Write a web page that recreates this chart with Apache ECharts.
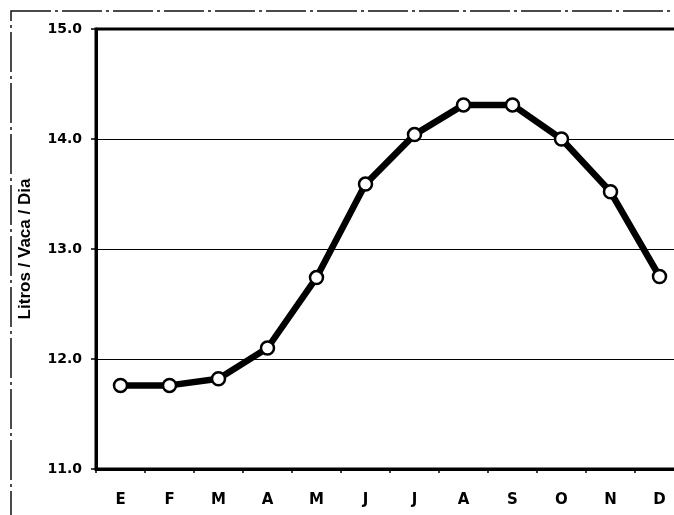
<!DOCTYPE html>
<html>
<head>
<meta charset="utf-8">
<script src="https://cdn.jsdelivr.net/npm/echarts@6/dist/echarts.min.js"></script>
<style>
html,body{margin:0;padding:0;background:#fff;}
#c{width:674px;height:515px;}
</style>
</head>
<body>
<div id="c"></div>
<script>
var months = ['E','F','M','A','M','J','J','A','S','O','N','D'];
var litros = [11.76, 11.76, 11.82, 12.10, 12.74, 13.59, 14.04, 14.31, 14.31, 14.00, 13.52, 12.75];
var yTicks = [11, 12, 13, 14, 15];
var yName = 'Litros / Vaca / Dia';

var chart = echarts.init(document.getElementById('c'), null, {renderer:'canvas'});
var font = 'DejaVu Sans';
chart.setOption({
  animation: false,
  backgroundColor: '#fff',
  graphic: [{
    type: 'rect',
    shape: {x: 11, y: 11, width: 720, height: 560},
    style: {fill: 'none', stroke: '#111', lineWidth: 1.5, lineDash: [40, 4, 3, 4]},
    silent: true, z: 0
  }],
  grid: {
    left: 96, top: 29, width: 588, height: 440,
    containLabel: false,
    outerBoundsMode: 'none',
    show: true, borderColor: '#000', borderWidth: 3, backgroundColor: 'transparent'
  },
  xAxis: {
    type: 'category',
    data: months,
    boundaryGap: true,
    axisLine: {lineStyle: {color: '#000', width: 3}},
    axisTick: {show: true, length: 4, lineStyle: {color: '#000', width: 1.5}},
    axisLabel: {color: '#000', fontFamily: font, fontWeight: 'bold', fontSize: 15, margin: 24, hideOverlap: false}
  },
  yAxis: {
    type: 'value',
    min: yTicks[0], max: yTicks[yTicks.length - 1], interval: 1,
    name: yName,
    nameLocation: 'middle',
    nameGap: 62,
    nameTextStyle: {color: '#000', fontFamily: 'Liberation Sans', fontWeight: 'bold', fontSize: 17},
    axisLine: {show: true, lineStyle: {color: '#000', width: 3}},
    axisTick: {show: true, length: 5, lineStyle: {color: '#000', width: 1.5}},
    axisLabel: {color: '#000', fontFamily: font, fontWeight: 'bold', fontSize: 14, margin: 14,
      formatter: function (v) { return v.toFixed(1); }},
    splitLine: {show: true, lineStyle: {color: '#000', width: 1.2}}
  },
  series: [{
    type: 'line',
    data: litros,
    symbol: 'circle',
    symbolSize: 13,
    lineStyle: {color: '#000', width: 6.5},
    itemStyle: {color: '#fff', borderColor: '#000', borderWidth: 2.5},
    z: 5
  }]
});
</script>
</body>
</html>
